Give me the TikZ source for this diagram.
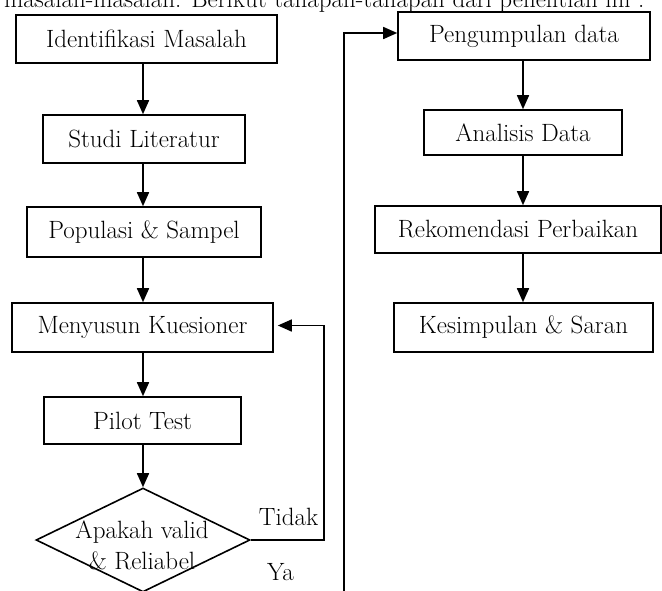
\documentclass[tikz,border=0pt]{standalone}
\usetikzlibrary{arrows.meta,shapes.geometric}
\begin{document}
\begin{tikzpicture}[x=1pt,y=-1pt,>={Triangle[length=14pt,width=12pt]},
	huruf/.style={font=\fontsize{25}{31}\selectfont},
	kotak/.style={draw,huruf,line width=1.6pt,inner sep=0pt},
	panah/.style={->,line width=1.6pt}]
	\useasboundingbox (0,0) rectangle (662,590);
	\clip (0,0) rectangle (662,590);
	\node[huruf,anchor=base east] (intro) at (648,7) {masalah-masalah. Berikut tahapan-tahapan dari penelitian ini :};
	% kolom kiri
	\node[kotak,minimum width=261pt,minimum height=48pt] (idm) at (146.5,39) {Identifikasi Masalah};
	\node[kotak,minimum width=202pt,minimum height=48pt] (stl) at (144,139) {Studi Literatur};
	\node[kotak,minimum width=234pt,minimum height=50pt] (pop) at (144,232) {Populasi \& Sampel};
	\node[kotak,minimum width=261pt,minimum height=49pt] (mks) at (142.5,327.5) {Menyusun Kuesioner};
	\node[kotak,minimum width=197pt,minimum height=47pt] (plt) at (142.5,420.5) {Pilot Test};
	\node[draw,diamond,line width=1.6pt,inner sep=0pt,minimum width=214pt,minimum height=104pt] (dia) at (143,540) {};
	\node[huruf,align=center] (dtx) at (142,545) {Apakah valid\\\& Reliabel};
	\node[huruf,anchor=base] (tdk) at (288.5,525) {Tidak};
	\node[huruf,anchor=base] (ya) at (280.5,580) {Ya};
	% kolom kanan
	\node[kotak,minimum width=252pt,minimum height=48pt] (pgd) at (524,36) {Pengumpulan data};
	\node[kotak,minimum width=198pt,minimum height=45pt] (ana) at (523,132.5) {Analisis Data};
	\node[kotak,minimum width=286pt,minimum height=47pt] (rek) at (518,229.5) {Rekomendasi Perbaikan};
	\node[kotak,minimum width=259pt,minimum height=49pt] (kes) at (523.5,327.5) {Kesimpulan \& Saran};
	\coordinate (bawah) at (344,600);
	% panah
	\draw[panah] (idm.south -| dia.north) -- (stl.north -| dia.north);
	\draw[panah] (stl.south -| dia.north) -- (pop.north -| dia.north);
	\draw[panah] (pop.south -| dia.north) -- (mks.north -| dia.north);
	\draw[panah] (mks.south -| dia.north) -- (plt.north -| dia.north);
	\draw[panah] (plt.south -| dia.north) -- (dia.north);
	\draw[panah,shorten >=4pt] (dia.east) -- ++(73,0) |- ([yshift=2pt]mks.east);
	\draw[panah] (bawah) |- ([yshift=3pt]pgd.west);
	\draw[panah] (pgd.south -| ana.north) -- (ana.north);
	\draw[panah] (ana.south) -- (rek.north -| ana.south);
	\draw[panah] (rek.south -| ana.south) -- (kes.north -| ana.south);
\end{tikzpicture}
\end{document}
